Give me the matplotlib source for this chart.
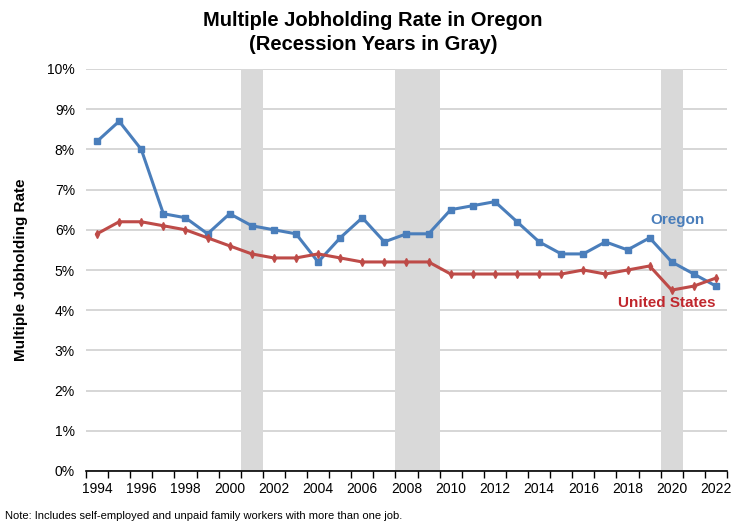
import numpy as np
import matplotlib
matplotlib.use("Agg")
import matplotlib.pyplot as plt
from matplotlib.ticker import PercentFormatter

plt.rcParams['font.family'] = ['Liberation Sans', 'DejaVu Sans']

################################################################################
# data
years = list(range(1994, 2023))
oregon = [8.2, 8.7, 8.0, 6.4, 6.3, 5.9, 6.4, 6.1, 6.0, 5.9, 5.2, 5.8, 6.3, 5.7,
          5.9, 5.9, 6.5, 6.6, 6.7, 6.2, 5.7, 5.4, 5.4, 5.7, 5.5, 5.8, 5.2, 4.9, 4.6]
usa = [5.9, 6.2, 6.2, 6.1, 6.0, 5.8, 5.6, 5.4, 5.3, 5.3, 5.4, 5.3, 5.2, 5.2,
       5.2, 5.2, 4.9, 4.9, 4.9, 4.9, 4.9, 4.9, 5.0, 4.9, 5.0, 5.1, 4.5, 4.6, 4.8]
recessions = [(2001, 2001), (2008, 2009), (2020, 2020)]

blue = '#4A7EBB'
red = '#BE4B48'

################################################################################
fig = plt.figure(figsize=(7.46, 5.25), dpi=100)
ax = fig.add_axes([86/746, 1-471/525, 641/746, 402/525])

for a, b in recessions:
    ax.axvspan(a - 0.5, b + 0.5, color='#D9D9D9', zorder=1, lw=0)

ax.plot(years, oregon, color=blue, lw=2.2, marker='s', ms=5, zorder=3)
ax.plot(years, usa, color=red, lw=2.2, marker='d', ms=4, zorder=3)

ax.set_xlim(years[0] - 0.5, years[-1] + 0.5)
ax.set_ylim(0, 10)
ax.set_yticks(range(0, 11))
ax.yaxis.set_major_formatter(PercentFormatter(decimals=0))
ax.set_xticks(years[::2])
ax.set_xticks(np.arange(years[0] - 0.5, years[-1] + 1, 1), minor=True)
ax.tick_params(axis='x', which='major', length=0, labelsize=10, pad=8)
ax.tick_params(axis='x', which='minor', length=5, width=1, direction='out', color='black')
ax.tick_params(axis='y', length=0, labelsize=10, pad=8)
ax.grid(axis='y', color='#D0D0D0', lw=1.2, zorder=0)
ax.set_axisbelow(True)
for s in ['top', 'right', 'left']:
    ax.spines[s].set_visible(False)
ax.spines['bottom'].set_color('black')
ax.spines['bottom'].set_linewidth(1.2)
ax.spines['bottom'].set_zorder(4)

ax.set_ylabel('Multiple Jobholding Rate', fontsize=11, fontweight='bold', labelpad=14)

ax.text(2021.5, 6.24, 'Oregon', color=blue, fontsize=11, fontweight='bold', ha='right', va='center')
ax.text(2022.0, 4.18, 'United States', color='#C0272D', fontsize=11, fontweight='bold', ha='right', va='center')

fig.suptitle('Multiple Jobholding Rate in Oregon\n(Recession Years in Gray)',
             y=0.98, fontsize=14.5, fontweight='bold', linespacing=1.4)
fig.text(5/746, 1-516/525, 'Note: Includes self-employed and unpaid family workers with more than one job.',
         fontsize=8, va='center')

plt.savefig('out.png', dpi=100)
